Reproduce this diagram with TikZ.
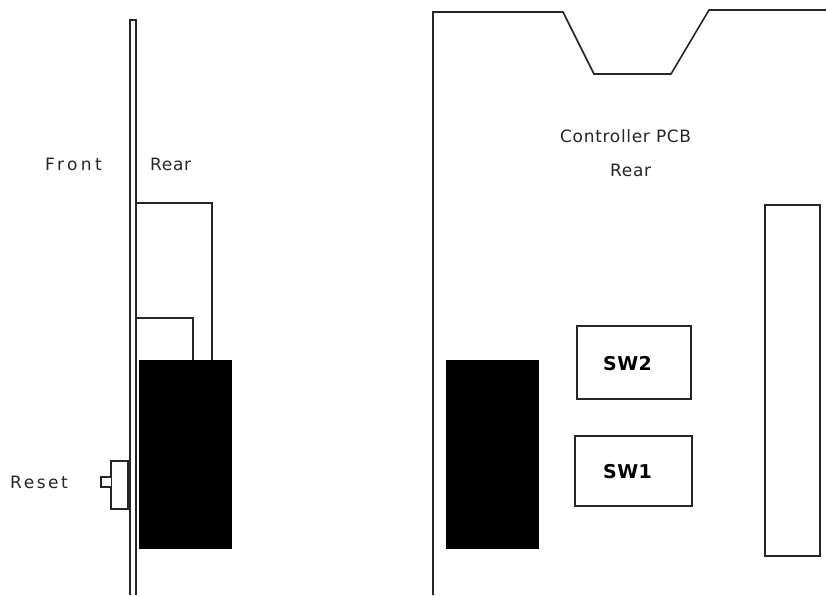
\documentclass[tikz,border=0pt]{standalone}
\usepackage{fontspec}
\setmainfont{DejaVu Sans}
\tikzset{
  px/.style={x=1pt,y=-1pt},
  wire/.style={draw=black!85,line width=1.6pt},
  solidblock/.style={fill=black,draw=none},
  lbl/.style={inner sep=0pt,anchor=base west,text=black!85,font=\fontsize{17}{19}\selectfont},
  swlbl/.style={inner sep=0pt,anchor=base west,text=black,font=\fontsize{19}{21}\selectfont\bfseries}
}
\newcommand{\spaced}[2]{\addfontfeature{LetterSpace=#1}#2}
\begin{document}
\begin{tikzpicture}[px]
\useasboundingbox (0,0) rectangle (826,595);
% panel side
\draw[wire] (130,595) -- (130,20) -- (136,20) -- (136,595);
% rear boxes
\draw[wire] (136,203) -- (212,203) -- (212,360);
\draw[wire] (136,318) -- (193,318) -- (193,360);
% reset
\draw[wire,fill=white] (111,461) rectangle (128,509);
\draw[wire,fill=white] (111,477) -- (101,477) -- (101,487) -- (111,487);
\fill[solidblock] (139,360) rectangle (232,549);
\node[lbl] (front) at (45,170) {\spaced{20}{Front}};
\node[lbl] (rear1) at (150,170) {\spaced{4}{Rear}};
\node[lbl] (reset) at (10,488) {\spaced{15}{Reset}};
% PCB
\draw[wire] (433,595) -- (433,12) -- (563,12) -- (594,74) -- (671,74) -- (709,10) -- (826,10);
\fill[solidblock] (446,360) rectangle (539,549);
\node[wire,draw,minimum width=114pt,minimum height=73pt,inner sep=0pt,outer sep=0pt] (sw2box) at (634,362.5) {};
\node[wire,draw,minimum width=117pt,minimum height=70pt,inner sep=0pt,outer sep=0pt] (sw1box) at (633.5,471) {};
\node[swlbl] (sw2) at (603,370) {\spaced{2}{SW2}};
\node[swlbl] (sw1) at (603,478) {\spaced{2}{SW1}};
\draw[wire] (765,205) rectangle (820,556);
\node[lbl] (pcb) at (560,142) {\spaced{4}{Controller PCB}};
\node[lbl] (rear2) at (610,176) {\spaced{4}{Rear}};
\end{tikzpicture}
\end{document}
